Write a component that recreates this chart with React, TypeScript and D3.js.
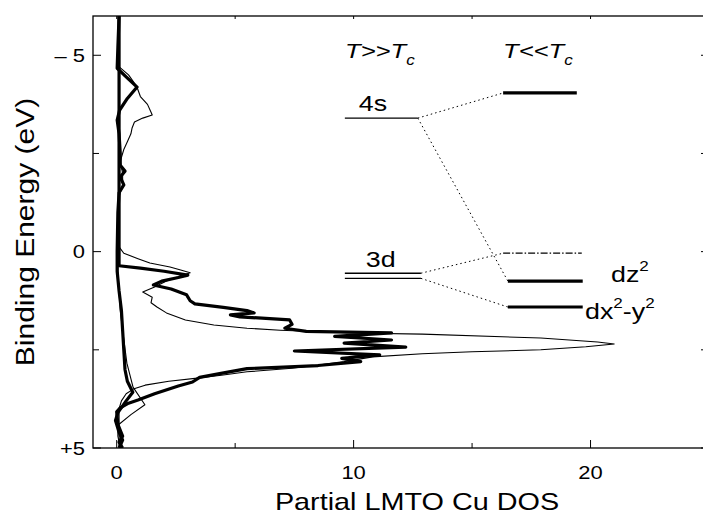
import React from "react";
import * as d3 from "d3";

const W = 703;
const H = 515;

// [binding energy (eV), partial DOS] pairs
const sThin: [number, number][] = [
  [-6, 0.1], [-4.75, 0.02], [-4.5, 0.5], [-4.2, 0.85], [-3.95, 1.0], [-3.75, 1.3],
  [-3.55, 1.45], [-3.48, 1.5], [-3.4, 1.1], [-3.3, 0.75], [-3.15, 0.65], [-3.0, 0.6],
  [-2.8, 0.45], [-2.6, 0.3], [-2.3, 0.15], [-2.0, 0.25], [-1.7, 0.25], [-1.4, 0.1],
  [-0.5, 0.05], [0.5, 0.05], [1.5, 0.15], [2.0, 0.25], [2.84, 0.43], [3.45, 0.69],
  [3.9, 1.19], [4.15, 0.6], [4.42, 0.05], [4.7, 0.05], [5, 0.15],
];

const sThick: [number, number][] = [
  [-6, 0.1], [-5.2, 0.05], [-4.67, 0.02], [-4.45, 0.4], [-4.19, 0.86], [-3.9, 0.45],
  [-3.6, 0.12], [-3.35, 0.02], [-3.0, 0.1], [-2.5, 0.15], [-2.2, 0.15], [-2.05, 0.35],
  [-1.9, 0.15], [-1.7, 0.3], [-1.5, 0.1], [-1.0, 0.05], [0, 0.02], [0.5, 0.02],
  [1.0, 0.1], [1.5, 0.2], [2.0, 0.25], [2.5, 0.3], [3.0, 0.35], [3.3, 0.45],
  [3.58, 0.68], [3.8, 0.4], [4.1, 0.05], [4.3, -0.05], [4.6, 0.1], [4.8, 0.25], [5, 0.1],
];

const dThin: [number, number][] = [
  [-6, 0.1], [-0.2, 0.08], [-0.12, 0.1], [0.04, 0.3], [0.18, 0.9], [0.29, 1.4],
  [0.39, 2.25], [0.47, 2.7], [0.54, 3.1], [0.62, 2.7], [0.75, 2.1], [0.9, 1.6],
  [1.03, 1.1], [1.16, 1.5], [1.3, 1.45], [1.41, 1.7], [1.56, 2.1], [1.74, 2.9],
  [1.87, 4.1], [1.95, 5.5], [2.0, 6.9], [2.07, 10.0], [2.1, 12.9], [2.2, 17.9],
  [2.3, 20.3], [2.35, 21.0], [2.42, 19.8], [2.5, 17.9], [2.55, 15.0], [2.6, 12.9],
  [2.68, 10.8], [2.8, 9.6], [2.88, 8.6], [2.97, 7.4], [3.06, 5.5], [3.14, 4.5],
  [3.22, 3.4], [3.3, 2.2], [3.4, 1.2], [3.5, 0.7], [3.62, 0.4], [3.8, 0.2],
  [4.0, 0.1], [5, 0.1],
];

const dThick: [number, number][] = [
  [-6, 0.1], [0.36, 0.1], [0.42, 1.0], [0.5, 2.0], [0.6, 3.0], [0.66, 2.6],
  [0.75, 1.9], [0.85, 1.55], [0.95, 2.3], [1.1, 2.95], [1.25, 3.1], [1.33, 3.3],
  [1.42, 4.5], [1.5, 5.5], [1.56, 5.8], [1.61, 4.8], [1.66, 5.2], [1.74, 7.3],
  [1.85, 7.4], [1.95, 7.1], [2.03, 8.0], [2.07, 11.6], [2.16, 9.2], [2.25, 11.6],
  [2.33, 9.6], [2.43, 12.2], [2.53, 7.5], [2.63, 11.1], [2.72, 9.5], [2.8, 10.3],
  [2.9, 8.5], [2.98, 5.5], [3.1, 4.4], [3.2, 3.5], [3.32, 3.2], [3.42, 2.6],
  [3.62, 1.6], [3.78, 0.9], [3.86, 0.5], [3.98, 0.15], [4.08, 0.0], [4.4, 0.05],
  [4.7, 0.25], [4.85, 0.1], [5, 0.25],
];

const xTicks = [0, 5, 10, 15, 20, 25];
const xLabels = [0, 10, 20];
const yTicks = [-5, -2.5, 0, 2.5, 5];
const yLabels: [number, string][] = [[-5, "\u2013 5"], [0, "0"], [5, "+5"]];

// schematic levels: energy (eV) and DOS-axis span
const hotLevels = [
  { e: -3.4, x0: 9.63, x1: 12.71 },
  { e: 0.55, x0: 9.63, x1: 12.84 },
  { e: 0.68, x0: 9.63, x1: 12.84 },
];
const coldLevels = [
  { e: -4.04, x0: 16.31, x1: 19.42, dash: "" },
  { e: 0.04, x0: 16.31, x1: 19.63, dash: "7,2,1.5,2" },
  { e: 0.75, x0: 16.51, x1: 19.67, dash: "" },
  { e: 1.41, x0: 16.51, x1: 19.67, dash: "" },
];
const links: [number, number, number, number][] = [
  [12.71, -3.4, 16.31, -4.04],
  [12.71, -3.4, 16.51, 0.75],
  [12.84, 0.55, 16.31, 0.04],
  [12.84, 0.68, 16.51, 1.41],
];

const FONT = "'Liberation Sans', Arial, Helvetica, sans-serif";

const Label = ({ x, y, size, children, anchor = "start", rot = 0, sx = 1.22, italic = false }: any) => (
  <text
    transform={`translate(${x},${y}) rotate(${rot}) scale(${sx},1)`}
    fontSize={size}
    fontFamily={FONT}
    fontStyle={italic ? "italic" : "normal"}
    textAnchor={anchor}
    fill="#000"
  >
    {children}
  </text>
);

const App = () => {
  const xs = d3.scaleLinear().domain([-1, 25]).range([93, 709]);
  const ys = d3.scaleLinear().domain([-6, 5]).range([16, 448]);

  const line = d3
    .line<[number, number]>()
    .x((d) => xs(d[1]))
    .y((d) => ys(d[0]));

  const left = xs(-1);
  const right = xs(25);
  const top = ys(-6);
  const bottom = ys(5);

  return (
    <svg width={W} height={H} style={{ position: "absolute", left: 0, top: 0, background: "#fff" }}>
      <defs>
        <clipPath id="plot">
          <rect x={left} y={top} width={right - left} height={bottom - top} />
        </clipPath>
      </defs>

      <g clipPath="url(#plot)" fill="none" stroke="#000" strokeLinejoin="round">
        <path d={line(sThin) || ""} strokeWidth={1.1} />
        <path d={line(dThin) || ""} strokeWidth={1.1} />
        <path d={line(sThick) || ""} strokeWidth={3.2} />
        <path d={line(dThick) || ""} strokeWidth={3.2} />
      </g>

      {/* frame */}
      <rect x={left} y={top} width={right - left} height={bottom - top} fill="none" stroke="#000" strokeWidth={1.3} />

      {xTicks.map((t) => {
        const len = t % 10 === 0 ? 8 : 5;
        return (
          <g key={"xt" + t} stroke="#000" strokeWidth={1}>
            <line x1={xs(t)} x2={xs(t)} y1={bottom} y2={bottom - len} />
            <line x1={xs(t)} x2={xs(t)} y1={top} y2={top + 3} />
          </g>
        );
      })}
      {yTicks.map((t) => {
        const len = t % 5 === 0 ? 8 : 6;
        return (
          <g key={"yt" + t} stroke="#000" strokeWidth={1}>
            <line x1={left} x2={left + len} y1={ys(t)} y2={ys(t)} />
            <line x1={right} x2={right - 8} y1={ys(t)} y2={ys(t)} />
          </g>
        );
      })}

      {xLabels.map((t) => (
        <Label key={"xl" + t} x={xs(t)} y={479} size={18} anchor="middle">
          {t}
        </Label>
      ))}
      {yLabels.map(([t, s]) => (
        <Label key={"yl" + t} x={85} y={ys(t) + 6.5} size={18} anchor="end">
          {s}
        </Label>
      ))}

      <Label x={34} y={232} size={25} anchor="middle" rot={-90} sx={1.2}>
        Binding Energy (eV)
      </Label>
      <Label x={417} y={510} size={24} anchor="middle" sx={1.2}>
        Partial LMTO Cu DOS
      </Label>

      {/* level scheme */}
      <g stroke="#000" fill="none">
        {links.map(([a, b, c, d], i) => (
          <line key={"lk" + i} x1={xs(a)} y1={ys(b)} x2={xs(c)} y2={ys(d)} strokeWidth={1} strokeDasharray="1.5,3" />
        ))}
        {hotLevels.map((l, i) => (
          <line key={"hl" + i} x1={xs(l.x0)} x2={xs(l.x1)} y1={ys(l.e)} y2={ys(l.e)} strokeWidth={1.3} />
        ))}
        {coldLevels.map((l, i) => (
          <line
            key={"cl" + i}
            x1={xs(l.x0)}
            x2={xs(l.x1)}
            y1={ys(l.e)}
            y2={ys(l.e)}
            strokeWidth={l.dash ? 1.2 : 3.2}
            strokeDasharray={l.dash || undefined}
          />
        ))}
      </g>

      <Label x={345} y={58} size={21} italic>
        T&gt;&gt;T<tspan fontSize={14} dy={7}>c</tspan>
      </Label>
      <Label x={503} y={58} size={21} italic>
        T&lt;&lt;T<tspan fontSize={14} dy={7}>c</tspan>
      </Label>
      <Label x={xs(hotLevels[0].x0) + 14} y={ys(hotLevels[0].e) - 7} size={22}>
        4s
      </Label>
      <Label x={xs(hotLevels[1].x0) + 21} y={ys(hotLevels[1].e) - 6} size={22}>
        3d
      </Label>
      <Label x={611} y={ys(coldLevels[2].e) + 1} size={22}>
        dz<tspan fontSize={14} dy={-11}>2</tspan>
      </Label>
      <Label x={585} y={ys(coldLevels[3].e) + 12} size={22}>
        dx<tspan fontSize={14} dy={-11}>2</tspan>
        <tspan dy={11}>-y</tspan>
        <tspan fontSize={14} dy={-11}>2</tspan>
      </Label>
    </svg>
  );
};

export default App;
